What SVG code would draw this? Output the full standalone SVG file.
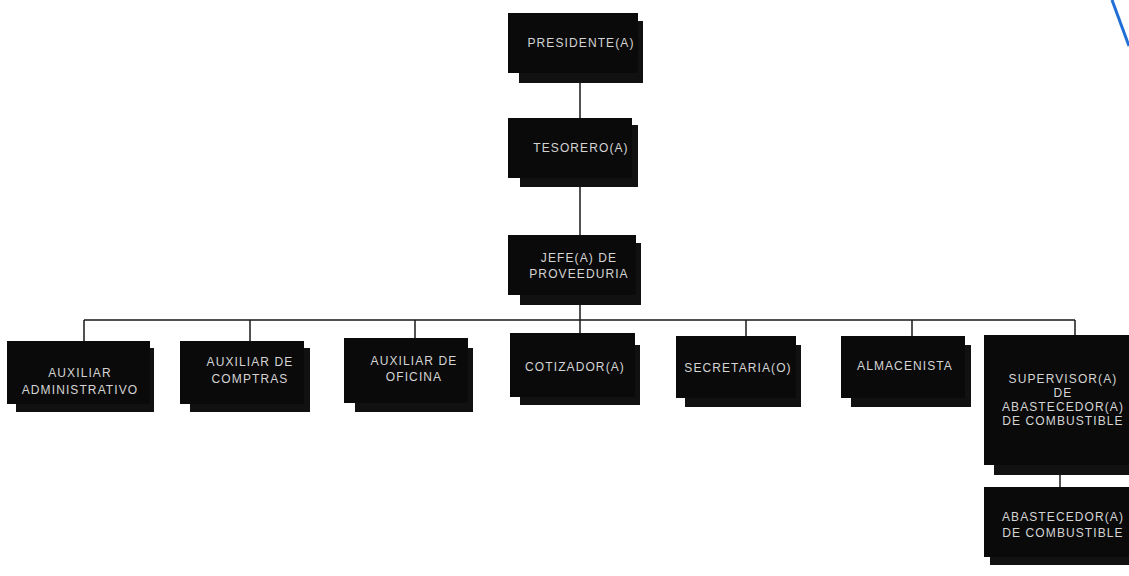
<svg xmlns="http://www.w3.org/2000/svg" width="1129" height="576" viewBox="0 0 1129 576">
<style>
.bg{fill:#ffffff}
.box{fill:#0a0a0a}
.sh{fill:#111111}
.t{font-family:"Liberation Sans",Arial,sans-serif;font-size:12px;fill:#d4d4d4;text-anchor:middle;letter-spacing:1.1px}
.ln{stroke:#1a1a1a;stroke-width:1.5;fill:none}
</style>
<rect class="bg" x="0" y="0" width="1129" height="576"/>
<path d="M1112,0 L1129,46" stroke="#1f6fd6" stroke-width="3" fill="none"/>
<g id="connectors">
<path class="ln" d="M580,80 V120 M580,185 V235 M580,300 V320 M84,320 H1075 M84,320 V342 M250,320 V342 M415,320 V342 M580,320 V338 M746,320 V338 M912,320 V338 M1075,320 V338 M1060,470 V488"/>
</g>
<g id="presidente">
<rect class="sh" x="519" y="21" width="124" height="62"/>
<rect class="box" x="508" y="13" width="130" height="60"/>
<text class="t" x="581" y="47">PRESIDENTE(A)</text>
</g>
<g id="tesorero">
<rect class="sh" x="520" y="125" width="118" height="62"/>
<rect class="box" x="508" y="118" width="124" height="60"/>
<text class="t" x="581" y="152">TESORERO(A)</text>
</g>
<g id="jefe">
<rect class="sh" x="520" y="243" width="121" height="62"/>
<rect class="box" x="508" y="235" width="128" height="60"/>
<text class="t" x="579" y="262">JEFE(A) DE</text>
<text class="t" x="579" y="278">PROVEEDURIA</text>
</g>
<g id="aux-admin">
<rect class="sh" x="16" y="348" width="138" height="64"/>
<rect class="box" x="7" y="341" width="143" height="63"/>
<text class="t" x="80" y="377">AUXILIAR</text>
<text class="t" x="80" y="394">ADMINISTRATIVO</text>
</g>
<g id="aux-compras">
<rect class="sh" x="190" y="348" width="120" height="64"/>
<rect class="box" x="180" y="341" width="124" height="63"/>
<text class="t" x="250" y="366">AUXILIAR DE</text>
<text class="t" x="250" y="383">COMPTRAS</text>
</g>
<g id="aux-oficina">
<rect class="sh" x="355" y="348" width="118" height="64"/>
<rect class="box" x="344" y="338" width="124" height="65"/>
<text class="t" x="414" y="365">AUXILIAR DE</text>
<text class="t" x="414" y="381">OFICINA</text>
</g>
<g id="cotizador">
<rect class="sh" x="520" y="345" width="120" height="60"/>
<rect class="box" x="510" y="333" width="125" height="64"/>
<text class="t" x="575" y="371">COTIZADOR(A)</text>
</g>
<g id="secretaria">
<rect class="sh" x="685" y="345" width="116" height="62"/>
<rect class="box" x="676" y="336" width="120" height="62"/>
<text class="t" x="738" y="372">SECRETARIA(O)</text>
</g>
<g id="almacenista">
<rect class="sh" x="851" y="345" width="120" height="62"/>
<rect class="box" x="841" y="336" width="124" height="62"/>
<text class="t" x="905" y="370">ALMACENISTA</text>
</g>
<g id="supervisor">
<rect class="sh" x="994" y="345" width="135" height="130"/>
<rect class="box" x="984" y="335" width="145" height="130"/>
<text class="t" x="1063" y="383">SUPERVISOR(A)</text>
<text class="t" x="1063" y="397">DE</text>
<text class="t" x="1063" y="411">ABASTECEDOR(A)</text>
<text class="t" x="1063" y="425">DE COMBUSTIBLE</text>
</g>
<g id="abastecedor">
<rect class="sh" x="990" y="495" width="139" height="70"/>
<rect class="box" x="984" y="487" width="145" height="70"/>
<text class="t" x="1063" y="521">ABASTECEDOR(A)</text>
<text class="t" x="1063" y="537">DE COMBUSTIBLE</text>
</g>
</svg>
